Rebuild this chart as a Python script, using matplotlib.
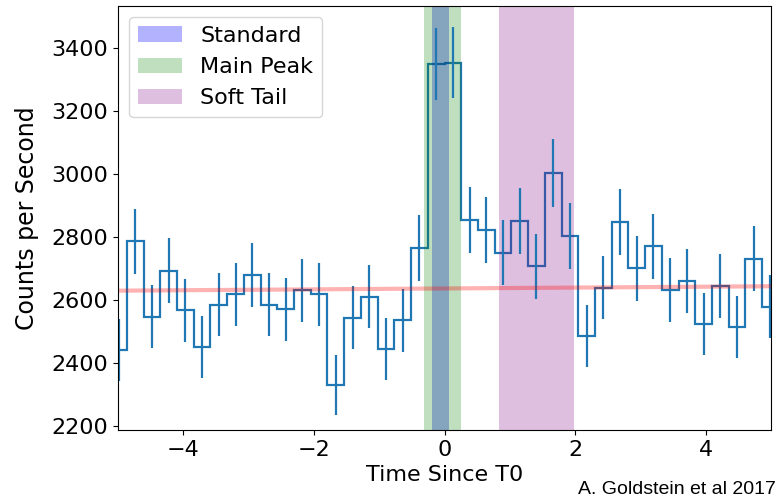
import numpy as np
import matplotlib
matplotlib.use("Agg")
import matplotlib.pyplot as plt

# 0.256 s binned light curve around T0
bin_width = 0.256
bin_start = -5.12
rates = [2441, 2787, 2547, 2693, 2568, 2450, 2586, 2618, 2681, 2586,
         2571, 2631, 2618, 2329, 2544, 2611, 2445, 2536, 2766, 3351,
         3355, 2854, 2822, 2751, 2850, 2708, 3004, 2803, 2486, 2640,
         2847, 2701, 2771, 2632, 2661, 2524, 2645, 2515, 2731, 2579]
errors = [98, 104, 100, 103, 100, 98, 100, 101, 102, 100,
          100, 101, 101, 95, 100, 101, 98, 100, 104, 114,
          114, 105, 105, 103, 105, 103, 108, 105, 98, 101,
          105, 103, 104, 101, 102, 99, 102, 99, 103, 100]

# linear background fit
bkg_t = [-5.0, 5.0]
bkg_rate = [2630, 2644]

# intervals
standard = (-0.192, 0.064)
main_peak = (-0.320, 0.256)
soft_tail = (0.832, 1.984)

edges = bin_start + bin_width * np.arange(len(rates) + 1)
centers = edges[:-1] + bin_width / 2

fig = plt.figure(figsize=(7.78, 4.98), dpi=100)
ax = fig.add_axes([0.1517, 0.1365, 0.8393, 0.8515])

ax.stairs(rates, edges, color="#1f77b4", linewidth=1.6)
ax.errorbar(centers, rates, yerr=errors, fmt="none", ecolor="#1f77b4", elinewidth=1.6)
ax.plot(bkg_t, bkg_rate, color="red", alpha=0.3, linewidth=3)

ax.axvspan(*standard, color="blue", alpha=0.3, linewidth=0, label="Standard")
ax.axvspan(*main_peak, color="green", alpha=0.25, linewidth=0, label="Main Peak")
ax.axvspan(*soft_tail, color="purple", alpha=0.25, linewidth=0, label="Soft Tail")

ax.set_xlim(-5, 5)
ax.set_ylim(2187, 3535)
ax.set_yticks([2200, 2400, 2600, 2800, 3000, 3200, 3400])
ax.tick_params(labelsize=16)
ax.set_xlabel("Time Since T0", fontsize=16)
ax.set_ylabel("Counts per Second", fontsize=17, labelpad=9)
ax.legend(loc="upper left", fontsize=16)

fig.text(0.997, 0.008, "A. Goldstein et al 2017", fontsize=14,
         family="Liberation Sans", ha="right", va="baseline")

fig.savefig("out.png", dpi=100)
